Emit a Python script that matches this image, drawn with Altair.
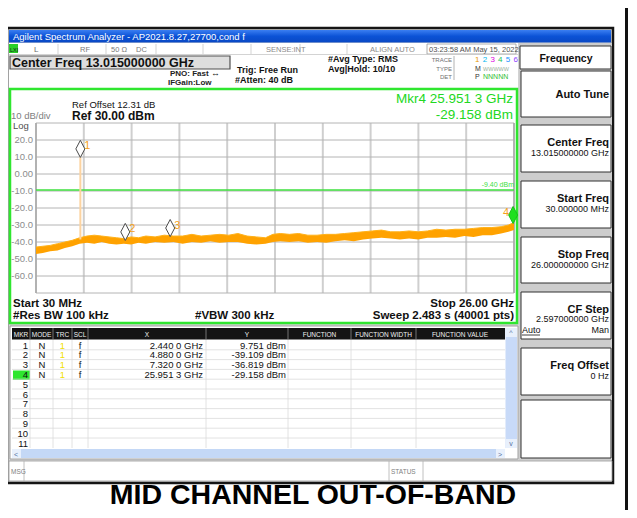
import altair as alt
import pandas as pd

FONT = "Liberation Sans"

# ---------------- spectrum data ----------------
start_ghz = 0.03
stop_ghz = 26.0
ref_level_dbm = 30.0
bottom_dbm = -70.0
display_line_dbm = -9.40

trace_freq_ghz = [0.03, 0.4, 0.8, 1.2, 1.6, 2.0, 2.4, 2.8, 3.2, 3.6, 4.0, 4.4, 4.8, 5.2, 5.6,
                  6.0, 6.5, 7.0, 7.5, 8.0, 8.5, 9.0, 9.5, 10.0, 10.5, 11.0, 11.5, 12.0, 12.5,
                  12.9, 13.3, 13.8, 14.3, 14.8, 15.3, 15.8, 16.3, 16.8, 17.3, 17.8, 18.3, 18.8,
                  19.3, 19.8, 20.3, 20.8, 21.3, 21.8, 22.3, 22.8, 23.3, 23.8, 24.3, 24.8, 25.3,
                  25.7, 26.0]
trace_low_dbm = [-47.0, -46.5, -45.5, -45.0, -43.5, -42.5, -41.0, -40.5, -41.0, -40.0, -41.0,
                 -41.5, -41.0, -41.5, -40.5, -41.0, -40.0, -40.5, -40.0, -41.0, -40.0, -40.5,
                 -39.5, -40.5, -40.0, -40.0, -41.0, -41.5, -41.0, -40.0, -39.5, -40.0, -39.5,
                 -40.5, -40.0, -40.5, -39.5, -39.0, -39.5, -38.5, -38.0, -37.5, -38.0, -38.5,
                 -38.0, -38.5, -37.5, -37.5, -37.0, -37.5, -36.5, -37.0, -36.0, -36.0, -35.0,
                 -34.0, -33.0]
trace_high_dbm = [-43.0, -42.5, -42.0, -41.0, -40.0, -39.0, -37.5, -36.5, -36.0, -36.5, -37.0,
                  -37.5, -38.0, -37.0, -37.5, -36.5, -37.0, -36.0, -36.5, -36.5, -35.5, -36.5,
                  -36.0, -35.5, -36.0, -35.0, -36.5, -37.0, -37.5, -35.5, -35.0, -35.5, -35.0,
                  -36.0, -36.0, -35.5, -35.5, -35.0, -34.5, -34.0, -33.5, -33.0, -34.0, -34.0,
                  -33.5, -34.0, -33.5, -32.5, -33.0, -32.5, -32.5, -32.0, -31.5, -31.5, -31.0,
                  -30.0, -28.5]

marker_ids = ["1", "2", "3", "4"]
marker_freq_ghz = [2.4400, 4.8800, 7.3200, 25.9513]
marker_level_dbm = [9.751, -39.109, -36.819, -29.158]
marker_x_text = ["2.440 0 GHz", "4.880 0 GHz", "7.320 0 GHz", "25.951 3 GHz"]
marker_y_text = ["9.751 dBm", "-39.109 dBm", "-36.819 dBm", "-29.158 dBm"]
spike_floor_dbm = -38.5

ytick_values = [20, 10, 0, -10, -20, -30, -40, -50, -60]
ytick_labels = ["20.0", "10.0", "0.00", "-10.0", "-20.0", "-30.0", "-40.0", "-50.0", "-60.0"]
hgrid_values = [30, 20, 10, 0, -10, -20, -30, -40, -50, -60, -70]
vgrid_freqs = [start_ghz + k * (stop_ghz - start_ghz) / 10 for k in range(11)]

softkey_labels = ["Auto Tune", "Center Freq", "Start Freq", "Stop Freq", "CF Step", "Freq Offset", ""]
softkey_values = ["", "13.015000000 GHz", "30.000000 MHz", "26.000000000 GHz",
                  "2.597000000 GHz", "0 Hz", ""]
table_headers = ["MKR", "MODE", "TRC", "SCL", "X", "Y", "FUNCTION", "FUNCTION WIDTH", "FUNCTION VALUE"]
trace_numbers = ["1", "2", "3", "4", "5", "6"]
trace_number_colors = ["#e89a00", "#00b8f0", "#e000e0", "#20c060", "#2090ff", "#9040ff"]

# ---------------- scales ----------------
W, H = 621, 502
PX = alt.Scale(domain=[8, 8 + W], range=[0, W], nice=False, zero=False)
PY = alt.Scale(domain=[8, 8 + H], range=[0, H], nice=False, zero=False)
FX = alt.Scale(domain=[start_ghz, stop_ghz], range=[36 - 8, 514 - 8], nice=False, zero=False)
FY = alt.Scale(domain=[bottom_dbm, ref_level_dbm], range=[293 - 8, 123 - 8], nice=False, zero=False)


def rects(rows, **mark):
    df = pd.DataFrame(rows, columns=["x", "y", "x2", "y2", "fill"])
    return alt.Chart(df).mark_rect(**mark).encode(
        x=alt.X("x:Q", scale=PX, axis=None), x2="x2:Q",
        y=alt.Y("y:Q", scale=PY, axis=None), y2="y2:Q",
        fill=alt.Fill("fill:N", scale=None),
    )


def lines(rows, width=1.0):
    df = pd.DataFrame(rows, columns=["x", "y", "x2", "y2", "c"])
    return alt.Chart(df).mark_rule(strokeWidth=width).encode(
        x=alt.X("x:Q", scale=PX, axis=None), x2="x2:Q",
        y=alt.Y("y:Q", scale=PY, axis=None), y2="y2:Q",
        color=alt.Color("c:N", scale=None),
    )


def texts(rows, align="left", weight="normal", baseline="alphabetic", font=FONT):
    df = pd.DataFrame(rows, columns=["x", "y", "t", "c", "s"])
    return alt.Chart(df).mark_text(align=align, baseline=baseline, fontWeight=weight, font=font).encode(
        x=alt.X("x:Q", scale=PX, axis=None),
        y=alt.Y("y:Q", scale=PY, axis=None),
        text="t:N",
        color=alt.Color("c:N", scale=None),
        size=alt.Size("s:Q", scale=None),
    )


decor = []
# window and page frame
decor.append(rects([(7, 28, 613, 483, "#d2d2d2")], stroke="#151515", strokeWidth=2.5))
decor.append(rects([(625, 8, 628, 510, "#111111")]))
title_grad = alt.Gradient(gradient="linear", x1=0, x2=0, y1=0, y2=1,
                          stops=[alt.GradientStop(color="#3a7ef2", offset=0),
                                 alt.GradientStop(color="#0b52d6", offset=0.5),
                                 alt.GradientStop(color="#0a48c4", offset=1)])
decor.append(alt.Chart(pd.DataFrame([(9, 30, 611, 42.5)], columns=["x", "y", "x2", "y2"])).mark_rect(fill=title_grad).encode(
    x=alt.X("x:Q", scale=PX, axis=None), x2="x2:Q", y=alt.Y("y:Q", scale=PY, axis=None), y2="y2:Q"))
# header / status areas
decor.append(rects([(9, 43, 518, 88, "#ffffff"), (519, 43, 612, 460, "#cdcdcd")]))
decor.append(rects([(10, 56, 230, 69, "#dedede")], stroke="#505050", strokeWidth=1.2))
decor.append(rects([(427, 44, 516, 54, "#ffffff")], stroke="#9a9a9a", strokeWidth=0.8))
decor.append(rects([(9, 44, 18, 53, "#28d028")]))
decor.append(lines([(x, 44, x, 54, "#c8c8c8") for x in [58, 106, 156, 203, 251, 300, 347]] +
                   [(9, 54.5, 518, 54.5, "#c8c8c8"), (454, 56, 454, 80, "#a0a0a0")], 0.8))
# softkeys
decor.append(rects([(520, 46, 611, 69, "#ffffff")], stroke="#303030", strokeWidth=1))
soft_tops = [71, 125, 181, 237, 292, 348, 400]
soft_bottoms = [117, 172, 228, 283, 339, 395, 458]
decor.append(rects([(521, t, 611, b, "#ffffff") for t, b in zip(soft_tops, soft_bottoms)],
                   stroke="#303030", strokeWidth=1))
# graticule frame
decor.append(rects([(10, 89, 517, 323, "#ffffff")], stroke="#2fe62f", strokeWidth=2.5))
# marker table
decor.append(rects([(10, 326, 518, 459, "#ffffff")], stroke="#a0a0a0", strokeWidth=1))
decor.append(rects([(12, 328, 505, 339.5, "#141414")]))
decor.append(rects([(505.5, 328, 517, 448, "#c8daf8"), (12, 449, 505, 458, "#c4d8f6")]))
decor.append(rects([(505.5, 328, 517, 337, "#e8f0fc"), (505.5, 439, 517, 448, "#e8f0fc"),
                    (12, 449, 21, 458, "#e8f0fc"), (496, 449, 505, 458, "#e8f0fc"),
                    (13, 370.5, 30, 380, "#2ee62e")]))
row_h = 9.8
col_lines = [30, 53, 72, 88, 206, 288, 351, 416]
decor.append(lines([(12, 340 + row_h * k, 505, 340 + row_h * k, "#dadada") for k in range(1, 11)] +
                   [(x, 340, x, 448, "#dadada") for x in col_lines] +
                   [(x, 328, x, 339.5, "#8a8a8a") for x in col_lines], 0.8))
# message bar
decor.append(rects([(9, 461, 612, 481, "#ffffff")], stroke="#9a9a9a", strokeWidth=0.8))
decor.append(lines([(24, 461, 24, 481, "#b0b0b0"), (389, 461, 389, 481, "#b0b0b0"),
                    (423, 461, 423, 481, "#b0b0b0")], 0.8))

# texts
decor.append(texts([(13, 39.5, "Agilent Spectrum Analyzer - AP2021.8.27,27700,cond f", "#ffffff", 9.5)]))
decor.append(texts([(10, 51.5, "LXI", "#1a1a1a", 5.5),
                    (34, 52, "L", "#6a6a6a", 8), (80, 52, "RF", "#7a7a7a", 7.5),
                    (111, 52, "50 Ω", "#7a7a7a", 7.5), (136, 52, "DC", "#7a7a7a", 7.5),
                    (266, 52, "SENSE:INT", "#8a8a8a", 7.5), (370, 52, "ALIGN AUTO", "#8a8a8a", 7.5),
                    (429, 52, "03:23:58 AM May 15, 2022", "#505050", 7.5)]))
decor.append(texts([(12, 67, "Center Freq 13.015000000 GHz", "#111111", 12.5)], weight="bold"))
decor.append(texts([(170, 76, "PNO: Fast", "#222222", 8), (168, 85, "IFGain:Low", "#222222", 8),
                    (237, 72.5, "Trig: Free Run", "#111111", 9), (235, 83, "#Atten: 40 dB", "#111111", 9),
                    (328, 62, "#Avg Type: RMS", "#111111", 9), (328, 72, "Avg|Hold: 10/10", "#111111", 9)],
                   weight="bold"))
decor.append(texts([(211, 76, "↔", "#222222", 9)]))
decor.append(texts([(452, 62, "TRACE", "#707070", 6), (452, 70.5, "TYPE", "#707070", 6),
                    (452, 79, "DET", "#707070", 6)], align="right"))
decor.append(texts([(475 + 7.7 * i, 62, n, c, 8) for i, (n, c) in enumerate(zip(trace_numbers, trace_number_colors))] +
                   [(475, 70.5, "M", "#333333", 7), (475, 79, "P", "#333333", 7),
                    (483, 70.5, "WWWWW", "#9ab09a", 5.5), (483, 79, "NNNNN", "#30c030", 7)]))
decor.append(texts([(566, 62, "Frequency", "#111111", 10.5)], align="center", weight="bold"))
decor.append(texts([(609, (98 if i == 0 else t + 21), lab, "#111111", 11)
                    for i, (t, lab) in enumerate(zip(soft_tops, softkey_labels)) if lab],
                   align="right", weight="bold"))
decor.append(texts([(609, t + 31 - (1 if lab == "CF Step" else 0), v, "#111111", 9)
                    for t, v, lab in zip(soft_tops, softkey_values, softkey_labels) if v] +
                   [(609, 333, "Man", "#111111", 9)], align="right"))
decor.append(texts([(522, 333, "Auto", "#111111", 9)]))
decor.append(lines([(522, 335, 540, 335, "#111111")], 0.8))

# graticule annotation texts
decor.append(texts([(72, 108, "Ref Offset 12.31 dB", "#111111", 9.5), (11, 119, "10 dB/div", "#808080", 9.5),
                    (13, 129, "Log", "#505050", 9.5)]))
decor.append(texts([(72, 120, "Ref 30.00 dBm", "#111111", 12)], weight="bold"))
decor.append(texts([(513, 103, "Mkr4 25.951 3 GHz", "#22d822", 13.5), (513, 118.5, "-29.158 dBm", "#22d822", 13.5)],
                   align="right"))
decor.append(texts([(13, 307, "Start 30 MHz", "#111111", 11.5), (13, 319, "#Res BW 100 kHz", "#111111", 11.5),
                    (195, 319, "#VBW 300 kHz", "#111111", 11.5)], weight="bold"))
decor.append(texts([(514, 307, "Stop 26.00 GHz", "#111111", 11.5),
                    (514, 319, "Sweep  2.483 s (40001 pts)", "#111111", 11.5)], align="right", weight="bold"))

# table texts
col_centers = [21, 41.5, 62.5, 80, 147, 247, 319.5, 383.5, 460]
decor.append(texts([(cx, 337, h, "#f0f0f0", 6.5) for cx, h in zip(col_centers, table_headers)], align="center"))
decor.append(texts([(28, 348.5 + row_h * i, str(i + 1), "#111111", 9.5) for i in range(11)], align="right"))
decor.append(texts([(42, 348.5 + row_h * i, "N", "#111111", 9.5) for i in range(4)] +
                   [(62.5, 348.5 + row_h * i, "1", "#f0e000", 9.5) for i in range(4)] +
                   [(80, 348.5 + row_h * i, "f", "#111111", 9.5) for i in range(4)], align="center"))
decor.append(texts([(203, 348.5 + row_h * i, s, "#111111", 9.5) for i, s in enumerate(marker_x_text)] +
                   [(286, 348.5 + row_h * i, s, "#111111", 9.5) for i, s in enumerate(marker_y_text)],
                   align="right"))
decor.append(texts([(511, 335, "^", "#5070a0", 7), (511, 446, "v", "#5070a0", 7),
                    (16, 456.5, "<", "#5070a0", 7), (500, 456.5, ">", "#5070a0", 7)], align="center"))
decor.append(texts([(11, 474, "MSG", "#808080", 6.5), (391, 474, "STATUS", "#808080", 6.5)]))

# caption
decor.append(texts([(313, 504, "MID CHANNEL OUT-OF-BAND", "#000000", 28.5)], align="center", weight="bold"))

decor_layer = alt.layer(*decor)

# ---------------- spectrum layers (data scales) ----------------
data = []
vg = pd.DataFrame({"f": vgrid_freqs, "lo": bottom_dbm, "hi": ref_level_dbm})
data.append(alt.Chart(vg).mark_rule(color="#cfcfcf", strokeWidth=2).encode(
    x=alt.X("f:Q", scale=FX, axis=None), y=alt.Y("lo:Q", scale=FY, axis=None), y2="hi:Q"))
hg = pd.DataFrame({"v": hgrid_values, "a": start_ghz, "b": stop_ghz})
data.append(alt.Chart(hg).mark_rule(color="#b4b4b4", strokeWidth=1).encode(
    x=alt.X("a:Q", scale=FX, axis=None), x2="b:Q", y=alt.Y("v:Q", scale=FY, axis=None)))
border = pd.DataFrame({"f": [start_ghz, stop_ghz], "lo": bottom_dbm, "hi": ref_level_dbm})
data.append(alt.Chart(border).mark_rule(color="#a8a8a8", strokeWidth=1.5).encode(
    x=alt.X("f:Q", scale=FX, axis=None), y=alt.Y("lo:Q", scale=FY, axis=None), y2="hi:Q"))
dl = pd.DataFrame({"v": [display_line_dbm], "a": [start_ghz], "b": [stop_ghz], "t": ["-9.40 dBm"]})
data.append(alt.Chart(dl).mark_rule(color="#3ee03e", strokeWidth=1.5).encode(
    x=alt.X("a:Q", scale=FX, axis=None), x2="b:Q", y=alt.Y("v:Q", scale=FY, axis=None)))
data.append(alt.Chart(dl).mark_text(color="#3ee03e", fontSize=7, align="right", dy=-5, font=FONT).encode(
    x=alt.X("b:Q", scale=FX, axis=None), y=alt.Y("v:Q", scale=FY, axis=None), text="t:N"))
ticks = pd.DataFrame({"v": ytick_values, "t": ytick_labels})
data.append(alt.Chart(ticks).mark_text(color="#8c8c8c", fontSize=9.5, align="right", baseline="middle", font=FONT).encode(
    x=alt.value(33 - 8), y=alt.Y("v:Q", scale=FY, axis=None), text="t:N"))
tr = pd.DataFrame({"f": trace_freq_ghz, "lo": trace_low_dbm, "hi": trace_high_dbm})
data.append(alt.Chart(tr).mark_area(color="#ffa200", opacity=1, interpolate="linear").encode(
    x=alt.X("f:Q", scale=FX, axis=None), y=alt.Y("lo:Q", scale=FY, axis=None), y2="hi:Q"))
data.append(alt.Chart(tr).mark_line(color="#ffb21a", strokeWidth=1).encode(
    x=alt.X("f:Q", scale=FX, axis=None), y=alt.Y("hi:Q", scale=FY, axis=None)))
sp = pd.DataFrame({"f": [marker_freq_ghz[0]], "lo": [spike_floor_dbm], "hi": [marker_level_dbm[0]]})
data.append(alt.Chart(sp).mark_rule(color="#fcd3a0", strokeWidth=2).encode(
    x=alt.X("f:Q", scale=FX, axis=None), y=alt.Y("lo:Q", scale=FY, axis=None), y2="hi:Q"))
mk = pd.DataFrame({"id": marker_ids, "f": marker_freq_ghz, "v": marker_level_dbm,
                   "fill": ["#ffffff", "#ffffff", "#ffffff", "#1ee01e"],
                   "stroke": ["#4a4a4a", "#4a4a4a", "#4a4a4a", "#18c018"]})
diamond = "M0,0L-0.5,-0.95L0,-1.9L0.5,-0.95Z"
data.append(alt.Chart(mk).mark_point(shape=diamond, size=324, filled=True, strokeWidth=1, opacity=1).encode(
    x=alt.X("f:Q", scale=FX, axis=None), y=alt.Y("v:Q", scale=FY, axis=None),
    fill=alt.Fill("fill:N", scale=None), stroke=alt.Stroke("stroke:N", scale=None)))
data.append(alt.Chart(mk.iloc[:3]).mark_text(color="#f5a020", fontSize=11, align="left", dx=4, dy=-11, font=FONT).encode(
    x=alt.X("f:Q", scale=FX, axis=None), y=alt.Y("v:Q", scale=FY, axis=None), text="id:N"))
data.append(alt.Chart(mk.iloc[3:]).mark_text(color="#f5a020", fontSize=11, align="right", dx=-4, dy=-11, font=FONT).encode(
    x=alt.X("f:Q", scale=FX, axis=None), y=alt.Y("v:Q", scale=FY, axis=None), text="id:N"))

data_layer = alt.layer(*data)

chart = alt.layer(decor_layer, data_layer).resolve_scale(
    x="independent", y="independent"
).properties(
    width=W, height=H, autosize="none", padding=0, background="#ffffff"
).configure_view(stroke=None)

chart.save("out.html", embed_options={"renderer": "svg", "actions": False})
